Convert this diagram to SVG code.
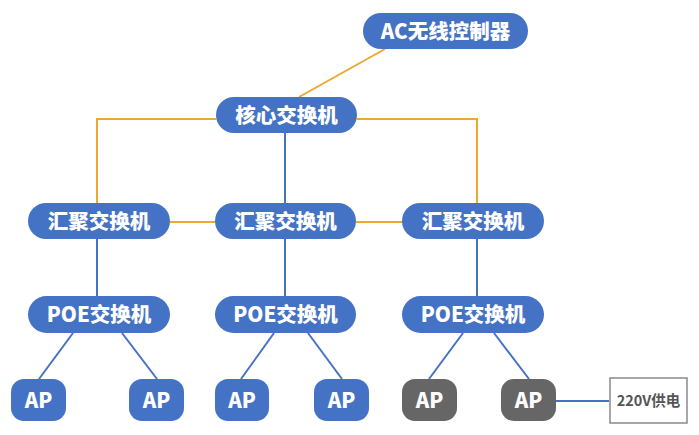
<svg xmlns="http://www.w3.org/2000/svg" width="699" height="435" viewBox="0 0 699 435">
<style>
.n{fill:#4472C4}
.g{fill:#666666}
.t{fill:#fff;font-family:"Noto Sans CJK SC","Noto Sans",sans-serif;font-weight:900;font-size:20.5px;text-anchor:middle}
.o{stroke:#EDA830;stroke-width:2;fill:none}
.b{stroke:#4472C4;stroke-width:2;fill:none}
</style>
<rect width="699" height="435" fill="#fff"/>
<g id="connectors">
<line class="o" x1="385" y1="49" x2="299" y2="97"/>
<polyline class="o" points="216,119 97,119 97,203"/>
<polyline class="o" points="357,119 477,119 477,203"/>
<line class="o" x1="170" y1="222" x2="215" y2="222"/>
<line class="o" x1="356" y1="222" x2="402" y2="222"/>
<line class="b" x1="285" y1="133" x2="285" y2="203"/>
<line class="b" x1="97" y1="239" x2="97" y2="296"/>
<line class="b" x1="285" y1="239" x2="285" y2="296"/>
<line class="b" x1="477" y1="239" x2="477" y2="296"/>
<line class="b" x1="73" y1="333" x2="39" y2="379"/>
<line class="b" x1="122" y1="333" x2="157" y2="379"/>
<line class="b" x1="274" y1="333" x2="241" y2="379"/>
<line class="b" x1="308" y1="333" x2="342" y2="379"/>
<line class="b" x1="463" y1="333" x2="429" y2="379"/>
<line class="b" x1="494" y1="333" x2="529" y2="379"/>
<line class="b" x1="556" y1="401" x2="609" y2="401"/>
</g>
<g id="ac"><rect class="n" x="363" y="13" width="165" height="36" rx="18"/><text class="t" x="445.5" y="38.5">AC无线控制器</text></g>
<g id="core"><rect class="n" x="216" y="97" width="141" height="36" rx="18"/><text class="t" x="286.5" y="122.5">核心交换机</text></g>
<g id="agg1"><rect class="n" x="28" y="203" width="142" height="36" rx="18"/><text class="t" x="99" y="228.5">汇聚交换机</text></g>
<g id="agg2"><rect class="n" x="215" y="203" width="141" height="36" rx="18"/><text class="t" x="285.5" y="228.5">汇聚交换机</text></g>
<g id="agg3"><rect class="n" x="402" y="203" width="142" height="36" rx="18"/><text class="t" x="473" y="228.5">汇聚交换机</text></g>
<g id="poe1"><rect class="n" x="28" y="296" width="142" height="37" rx="18.5"/><text class="t" x="99" y="322">POE交换机</text></g>
<g id="poe2"><rect class="n" x="215" y="296" width="141" height="37" rx="18.5"/><text class="t" x="285.5" y="322">POE交换机</text></g>
<g id="poe3"><rect class="n" x="402" y="296" width="142" height="37" rx="18.5"/><text class="t" x="473" y="322">POE交换机</text></g>
<g id="ap1"><rect class="n" x="11" y="379" width="55" height="42" rx="13"/><text class="t" x="38.5" y="407.5">AP</text></g>
<g id="ap2"><rect class="n" x="129" y="379" width="55" height="42" rx="13"/><text class="t" x="156.5" y="407.5">AP</text></g>
<g id="ap3"><rect class="n" x="215" y="379" width="54" height="42" rx="13"/><text class="t" x="242" y="407.5">AP</text></g>
<g id="ap4"><rect class="n" x="314" y="379" width="55" height="42" rx="13"/><text class="t" x="341.5" y="407.5">AP</text></g>
<g id="ap5"><rect class="g" x="402" y="379" width="55" height="42" rx="13"/><text class="t" x="429.5" y="407.5">AP</text></g>
<g id="ap6"><rect class="g" x="501" y="379" width="55" height="42" rx="13"/><text class="t" x="528.5" y="407.5">AP</text></g>
<g id="power"><rect x="610" y="378" width="77" height="45" fill="#fff" stroke="#8a8a8a" stroke-width="1.5"/><text x="648.5" y="406" fill="#555" font-family="'Noto Sans CJK SC','Noto Sans',sans-serif" font-weight="600" font-size="14.5" text-anchor="middle">220V供电</text></g>
</svg>
